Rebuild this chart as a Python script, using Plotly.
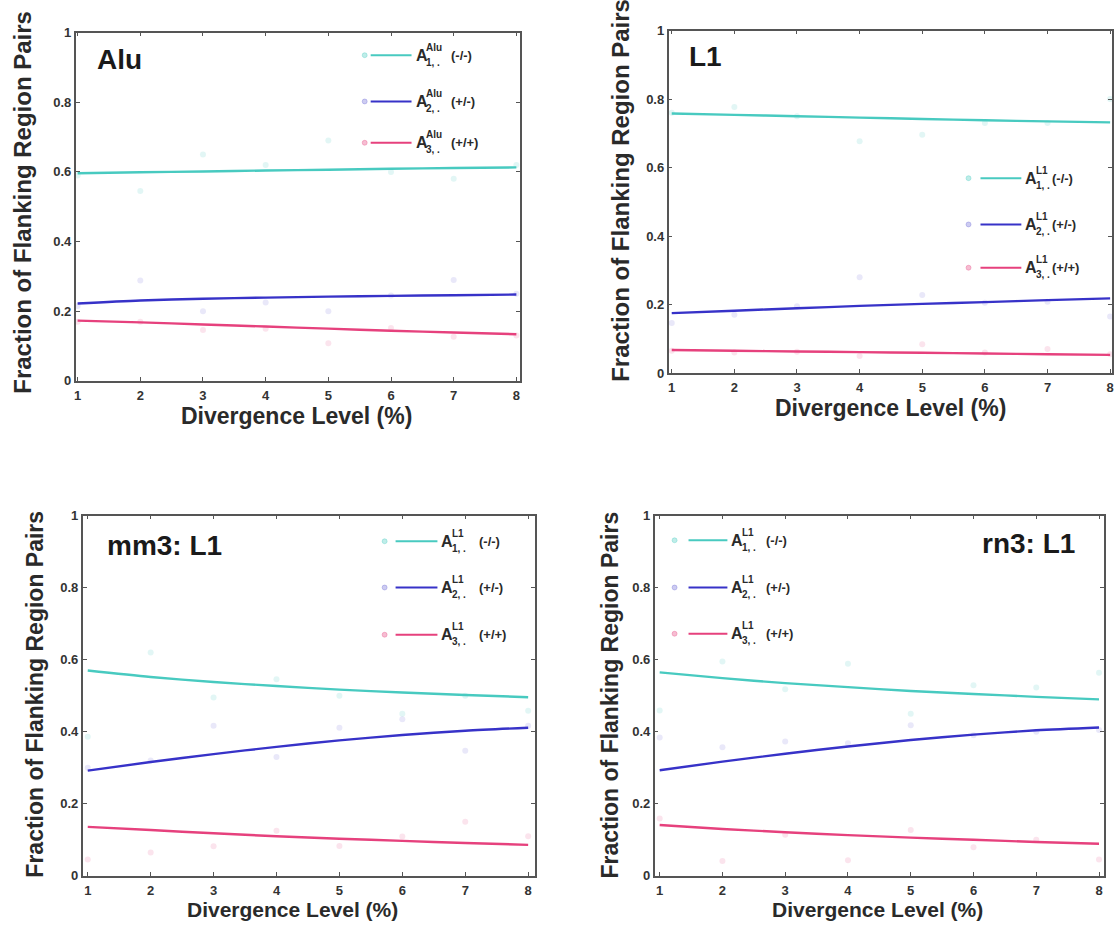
import plotly.graph_objects as go

W, H = 1117, 933

# ---------------- data ----------------
divergence = [1, 2, 3, 4, 5, 6, 7, 8]
y_ticks = [0, 0.2, 0.4, 0.6, 0.8, 1]
y_tick_text = ["0", "0.2", "0.4", "0.6", "0.8", "1"]

panel_names = ["Alu", "L1", "mm3: L1", "rn3: L1"]
legend_sup = ["Alu", "L1", "L1", "L1"]
series_suffix = ["(-/-)", "(+/-)", "(+/+)"]
series_index = ["1", "2", "3"]

# fitted curves
alu_fit_1 = [0.596, 0.599, 0.601, 0.604, 0.606, 0.609, 0.611, 0.613]
alu_fit_2 = [0.222, 0.231, 0.236, 0.239, 0.242, 0.244, 0.246, 0.248]
alu_fit_3 = [0.173, 0.168, 0.162, 0.156, 0.150, 0.144, 0.139, 0.134]
alu_pts_1 = [0.59, 0.545, 0.65, 0.62, 0.69, 0.60, 0.58, 0.62]
alu_pts_2 = [0.215, 0.288, 0.20, 0.225, 0.20, 0.245, 0.29, 0.25]
alu_pts_3 = [0.17, 0.17, 0.146, 0.15, 0.108, 0.152, 0.127, 0.13]

l1_fit_1 = [0.758, 0.754, 0.750, 0.746, 0.742, 0.738, 0.735, 0.732]
l1_fit_2 = [0.175, 0.182, 0.189, 0.196, 0.202, 0.207, 0.213, 0.218]
l1_fit_3 = [0.067, 0.065, 0.063, 0.061, 0.059, 0.057, 0.055, 0.053]
l1_pts_1 = [0.76, 0.777, 0.75, 0.677, 0.696, 0.73, 0.73, 0.80]
l1_pts_2 = [0.146, 0.17, 0.195, 0.28, 0.228, 0.205, 0.208, 0.165]
l1_pts_3 = [0.065, 0.06, 0.062, 0.05, 0.084, 0.06, 0.07, 0.055]

mm3_fit_1 = [0.570, 0.552, 0.538, 0.527, 0.517, 0.509, 0.502, 0.496]
mm3_fit_2 = [0.292, 0.316, 0.338, 0.358, 0.376, 0.391, 0.403, 0.411]
mm3_fit_3 = [0.136, 0.127, 0.118, 0.110, 0.103, 0.097, 0.091, 0.086]
mm3_pts_1 = [0.386, 0.62, 0.495, 0.546, 0.50, 0.45, 0.50, 0.458]
mm3_pts_2 = [0.30, 0.32, 0.417, 0.33, 0.411, 0.435, 0.347, 0.417]
mm3_pts_3 = [0.045, 0.065, 0.082, 0.125, 0.083, 0.109, 0.15, 0.11]

rn3_fit_1 = [0.565, 0.549, 0.535, 0.524, 0.513, 0.505, 0.497, 0.490]
rn3_fit_2 = [0.293, 0.317, 0.339, 0.359, 0.377, 0.392, 0.404, 0.412]
rn3_fit_3 = [0.141, 0.130, 0.121, 0.113, 0.106, 0.100, 0.094, 0.089]
rn3_pts_1 = [0.459, 0.595, 0.518, 0.589, 0.45, 0.529, 0.523, 0.564]
rn3_pts_2 = [0.384, 0.357, 0.373, 0.368, 0.418, 0.39, 0.40, 0.405]
rn3_pts_3 = [0.159, 0.041, 0.114, 0.043, 0.127, 0.079, 0.10, 0.045]

fits = [
    [alu_fit_1, alu_fit_2, alu_fit_3],
    [l1_fit_1, l1_fit_2, l1_fit_3],
    [mm3_fit_1, mm3_fit_2, mm3_fit_3],
    [rn3_fit_1, rn3_fit_2, rn3_fit_3],
]
points = [
    [alu_pts_1, alu_pts_2, alu_pts_3],
    [l1_pts_1, l1_pts_2, l1_pts_3],
    [mm3_pts_1, mm3_pts_2, mm3_pts_3],
    [rn3_pts_1, rn3_pts_2, rn3_pts_3],
]

# ---------------- style ----------------
line_colors = ["rgb(72,202,192)", "rgb(55,50,200)", "rgb(230,65,125)"]
point_colors = ["rgba(72,202,192,0.16)", "rgba(55,50,200,0.11)", "rgba(230,65,125,0.14)"]
legend_pt_colors = ["rgba(72,202,192,0.35)", "rgba(55,50,200,0.25)", "rgba(230,65,125,0.35)"]
FONT = "Liberation Sans, Arial, sans-serif"
TXT = "#2a2a2a"

# plot area boxes in pixels: (left, top, right, bottom) and x ranges
boxes = [
    (74, 26, 520, 380),
    (669, 24, 1114, 372),
    (81, 517, 535, 883),
    (655, 517, 1106, 883),
]
x_ranges = [(0.97, 8.06), (0.95, 8.03), (0.92, 8.11), (0.92, 8.08)]


def px(x):
    return x / W


def py(y):
    return 1 - y / H


fig = go.Figure()
layout = {}
annotations = []
shapes = []

for p in range(4):
    xa = "x" if p == 0 else f"x{p+1}"
    ya = "y" if p == 0 else f"y{p+1}"
    l, t, r, b = boxes[p]
    common = dict(
        showline=True, linecolor="#555", linewidth=1.6, mirror="ticks",
        ticks="inside", ticklen=4, tickcolor="#555", tickwidth=1.2,
        showgrid=False, zeroline=False,
        tickfont=dict(family=FONT, size=13, color="#333", weight="bold"),
    )
    layout["xaxis" if p == 0 else f"xaxis{p+1}"] = dict(
        domain=[px(l), px(r)], range=list(x_ranges[p]), anchor=ya,
        tickvals=divergence, ticklabelstandoff=2, **common)
    layout["yaxis" if p == 0 else f"yaxis{p+1}"] = dict(
        domain=[py(b), py(t)], range=[0, 1], anchor=xa,
        tickvals=y_ticks, ticktext=y_tick_text, ticklabelstandoff=0, **common)

    for s in range(3):
        fig.add_trace(go.Scatter(
            x=divergence, y=points[p][s], mode="markers", xaxis=xa, yaxis=ya,
            marker=dict(size=6, color=point_colors[s], symbol="circle"),
            showlegend=False, hoverinfo="skip"))
        fig.add_trace(go.Scatter(
            x=divergence, y=fits[p][s], mode="lines", xaxis=xa, yaxis=ya,
            line=dict(color=line_colors[s], width=2.4, shape="spline", smoothing=0.8),
            showlegend=False))

# panel titles
panel_title_pos = [(93, 53, "left"), (687, 50, "left"), (103, 547, "left"), (1079, 545, "right")]
for p, (x, y, al) in enumerate(panel_title_pos):
    annotations.append(dict(
        x=px(x), y=py(y), xref="paper", yref="paper", text=panel_names[p],
        showarrow=False, xanchor=al, yanchor="middle",
        font=dict(family=FONT, size=28, color="#1a1a1a", weight="bold")))

# axis titles
ytitle_pos = [(21, 198, 24), (620, 186, 24), (33, 698, 23), (610, 699, 23)]
for (x, y, fs) in ytitle_pos:
    annotations.append(dict(
        x=px(x), y=py(y), xref="paper", yref="paper",
        text="Fraction of Flanking Region Pairs", textangle=-90,
        showarrow=False, xanchor="center", yanchor="middle",
        font=dict(family=FONT, size=fs, color=TXT, weight="bold")))
xtitle_pos = [(296, 416, 23), (892, 408, 23), (292, 917, 21), (879, 917, 21)]
for (x, y, fs) in xtitle_pos:
    annotations.append(dict(
        x=px(x), y=py(y), xref="paper", yref="paper",
        text="Divergence Level (%)", showarrow=False,
        xanchor="center", yanchor="middle",
        font=dict(family=FONT, size=fs, color=TXT, weight="bold")))

# legends: (marker x, line start, line end, rows y, suffix offset)
legend_geo = [
    (364, 370, 411, [49, 96, 138], 36),
    (970, 982, 1023, [174, 221, 265], 27),
    (384, 395, 437, [543, 590, 638], 38),
    (675, 689, 728, [542, 590, 637], 35),
]
for p, (mx, l0, l1, rows, soff) in enumerate(legend_geo):
    for s in range(3):
        yy = rows[s]
        shapes.append(dict(type="line", xref="paper", yref="paper",
                           x0=px(l0), x1=px(l1), y0=py(yy), y1=py(yy),
                           line=dict(color=line_colors[s], width=2)))
        shapes.append(dict(type="circle", xref="paper", yref="paper",
                           x0=px(mx - 2.5), x1=px(mx + 2.5), y0=py(yy + 2.5), y1=py(yy - 2.5),
                           line=dict(color=legend_pt_colors[s], width=1),
                           fillcolor=legend_pt_colors[s]))
        ax = l1 + 2
        annotations.append(dict(x=px(ax), y=py(yy), xref="paper", yref="paper",
                                text="A", showarrow=False, xanchor="left", yanchor="middle",
                                font=dict(family=FONT, size=16, color=TXT, weight="bold")))
        annotations.append(dict(x=px(ax + 11), y=py(yy - 8), xref="paper", yref="paper",
                                text=legend_sup[p], showarrow=False, xanchor="left", yanchor="middle",
                                font=dict(family=FONT, size=10, color=TXT, weight="bold")))
        annotations.append(dict(x=px(ax + 11), y=py(yy + 7), xref="paper", yref="paper",
                                text=series_index[s] + ", .", showarrow=False,
                                xanchor="left", yanchor="middle",
                                font=dict(family=FONT, size=10, color=TXT, weight="bold")))
        annotations.append(dict(x=px(ax + soff), y=py(yy), xref="paper", yref="paper",
                                text=series_suffix[s], showarrow=False, xanchor="left", yanchor="middle",
                                font=dict(family=FONT, size=13, color=TXT, weight="bold")))

fig.update_layout(
    width=W, height=H, margin=dict(l=0, r=0, t=0, b=0),
    paper_bgcolor="white", plot_bgcolor="white",
    annotations=annotations, shapes=shapes, showlegend=False,
    **layout)

fig.write_html("out.html")
